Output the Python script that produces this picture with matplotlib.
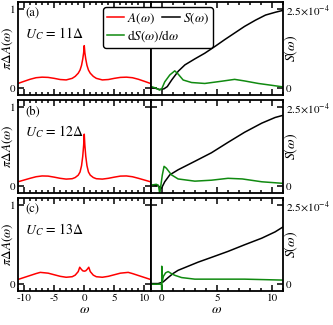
import matplotlib
matplotlib.use("Agg")
import matplotlib.pyplot as plt
from matplotlib.ticker import FixedLocator, MultipleLocator

plt.rcParams["font.family"] = "STIXGeneral"
plt.rcParams["mathtext.fontset"] = "stix"
plt.rcParams["axes.unicode_minus"] = False

# spectral function A(w), left column
W_A = [-11, -10, -9, -8, -7, -6, -5, -4, -3, -2, -1.5, -1, -0.7, -0.45, -0.25, -0.1,
       0, 0.1, 0.25, 0.45, 0.7, 1, 1.5, 2, 3, 4, 5, 6, 7, 8, 9, 10, 11]
A_11 = [0.06, 0.087, 0.113, 0.133, 0.14, 0.137, 0.125, 0.11, 0.105, 0.125, 0.15, 0.19,
        0.23, 0.29, 0.37, 0.45, 0.54, 0.45, 0.37, 0.29, 0.23, 0.19, 0.15, 0.125, 0.105,
        0.11, 0.125, 0.137, 0.14, 0.133, 0.113, 0.087, 0.06]
A_12 = [0.056, 0.078, 0.10, 0.12, 0.13, 0.128, 0.115, 0.10, 0.09, 0.095, 0.11, 0.14,
        0.18, 0.26, 0.38, 0.52, 0.66, 0.52, 0.38, 0.26, 0.18, 0.14, 0.11, 0.095, 0.09,
        0.10, 0.115, 0.128, 0.13, 0.12, 0.10, 0.078, 0.056]
W_A13 = [-11, -10, -9, -8, -7.3, -6, -5, -4, -3, -2, -1.5, -1, -0.75, -0.5, -0.25, 0,
         0.25, 0.5, 0.75, 1, 1.5, 2, 3, 4, 5, 6, 7.3, 8, 9, 10, 11]
A_13 = [0.06, 0.085, 0.11, 0.135, 0.15, 0.14, 0.12, 0.10, 0.088, 0.095, 0.115, 0.16,
        0.215, 0.19, 0.17, 0.165, 0.17, 0.19, 0.215, 0.16, 0.115, 0.095, 0.088, 0.10,
        0.12, 0.14, 0.15, 0.135, 0.11, 0.085, 0.06]

# S(w) and dS/dw, right column (units of 1e-4)
W_S11 = [-1.03, -0.6, -0.2, 0.2, 0.5, 0.9, 1.5, 2.1, 3.0, 3.9, 4.8, 5.7, 6.6, 7.5, 8.5,
         9.4, 10.3, 11]
S_11 = [0.02, 0.0, -0.04, -0.02, 0.05, 0.26, 0.54, 0.74, 0.93, 1.11, 1.32, 1.54, 1.75,
        1.96, 2.16, 2.32, 2.41, 2.47]
W_D11 = [-1.03, -0.5, -0.2, 0.0, 0.27, 0.73, 1.18, 1.48, 1.94, 2.7, 3.9, 5.4, 6.6, 7.5,
         8.75, 10, 11]
D_11 = [0.06, 0.0, -0.06, -0.02, 0.2, 0.42, 0.55, 0.45, 0.26, 0.18, 0.15, 0.22, 0.28,
        0.23, 0.15, 0.09, 0.04]

W_S12 = [-1.03, -0.33, -0.03, 0.27, 0.73, 1.48, 3.0, 4.5, 6.0, 7.5, 9.06, 10.27, 11]
S_12 = [0.03, 0.01, -0.07, 0.14, 0.36, 0.52, 0.79, 1.06, 1.39, 1.71, 2.0, 2.18, 2.25]
W_D12 = [-1.03, -0.5, -0.3, -0.18, -0.05, 0.05, 0.21, 0.42, 0.88, 1.48, 3.0, 4.5, 6.0,
         7.3, 9.06, 11]
D_12 = [0.03, 0.06, 0.03, -0.24, 0.1, 0.35, 0.63, 0.57, 0.36, 0.23, 0.16, 0.19, 0.25,
        0.23, 0.14, 0.09]

W_S13 = [-1.03, -0.33, 0.12, 0.58, 1.03, 1.48, 2.39, 3.3, 4.5, 6.0, 7.5, 9.06, 10.27, 11]
S_13 = [0.02, 0.02, 0.07, 0.21, 0.34, 0.44, 0.57, 0.7, 0.85, 1.04, 1.25, 1.46, 1.66, 1.82]
W_D13 = [-1.03, -0.02, 0.0, 0.0, 0.03, 0.15, 0.35, 0.58, 0.9, 1.2, 1.8, 3.0, 4.5, 7.5, 11]
D_13 = [0.0, 0.0, -0.3, 0.57, 0.05, 0.25, 0.36, 0.4, 0.33, 0.28, 0.21, 0.16, 0.16, 0.16,
        0.13]

PANELS = ["(a)", "(b)", "(c)"]
UC_LABELS = [r"$U_C\,=\,11\Delta$", r"$U_C\,=\,12\Delta$", r"$U_C\,=\,13\Delta$"]
A_SERIES = [(W_A, A_11), (W_A, A_12), (W_A13, A_13)]
S_SERIES = [(W_S11, S_11), (W_S12, S_12), (W_S13, S_13)]
D_SERIES = [(W_D11, D_11), (W_D12, D_12), (W_D13, D_13)]

RED = "#ff0000"
GREEN = "#108a10"

fig = plt.figure(figsize=(3.33, 3.25), dpi=100)

left_x, col_w = 18 / 333, 132.5 / 333
right_x = 150.7 / 333
h = 93 / 325
bottoms = [1 - 94.5 / 325, 1 - 192.5 / 325, 1 - 290.5 / 325]


def style(ax):
    ax.tick_params(which="both", direction="in", top=True, right=True,
                   labelsize=8, width=1.1, pad=2)
    ax.tick_params(which="major", length=4)
    ax.tick_params(which="minor", length=2)
    for s in ax.spines.values():
        s.set_linewidth(1.3)


handles = []
for i in range(3):
    axl = fig.add_axes([left_x, bottoms[i], col_w, h])
    axr = fig.add_axes([right_x, bottoms[i], col_w, h])

    w, a = A_SERIES[i]
    la, = axl.plot(w, a, color=RED, lw=1.1, label=r"$A(\omega)$")
    axl.set_xlim(-11, 11)
    axl.set_ylim(-0.08, 1.1)
    axl.xaxis.set_major_locator(FixedLocator([-10, -5, 0, 5, 10]))
    axl.xaxis.set_minor_locator(MultipleLocator(1))
    axl.yaxis.set_major_locator(FixedLocator([0, 1]))
    axl.set_ylabel(r"$\pi\Delta A(\omega)$", fontsize=9.5)
    axl.yaxis.set_label_coords(-0.025, 0.5)
    style(axl)
    axl.text(0.055, 0.866, PANELS[i], transform=axl.transAxes, fontsize=9,
             ha="left", va="center")
    axl.text(0.05, 0.66, UC_LABELS[i], transform=axl.transAxes, fontsize=10,
             ha="left", va="center")

    ws, s = S_SERIES[i]
    wd, d = D_SERIES[i]
    ls, = axr.plot(ws, [v * 1e-4 for v in s], color="black", lw=1.1, label=r"$S(\omega)$")
    ld, = axr.plot(wd, [v * 1e-4 for v in d], color=GREEN, lw=1.1,
                   label=r"$\mathrm{d}S(\omega)/\mathrm{d}\omega$")
    axr.set_xlim(-1, 11)
    axr.set_ylim(-0.2e-4, 2.75e-4)
    axr.xaxis.set_major_locator(FixedLocator([0, 5, 10]))
    axr.xaxis.set_minor_locator(MultipleLocator(1))
    axr.yaxis.set_major_locator(FixedLocator([0, 2.5e-4]))
    axr.yaxis.tick_right()
    axr.set_yticklabels(["0", r"$2.5\!\times\!10^{-4}$"])
    axr.yaxis.set_label_position("right")
    axr.set_ylabel(r"$S(\omega)$", fontsize=10)
    axr.yaxis.set_label_coords(0.995, 0.5)
    style(axr)
    axr.tick_params(which="both", left=True)

    if i < 2:
        axl.tick_params(labelbottom=False)
        axr.tick_params(labelbottom=False)
    else:
        axl.set_xlabel(r"$\omega$", fontsize=10, labelpad=0)
        axr.set_xlabel(r"$\omega$", fontsize=10, labelpad=0)
        handles = [la, ld, ls]

# second column overlaps the long dS/dw label, as in the original
leg = fig.legend(handles=handles, ncol=2, loc="upper left",
                 bbox_to_anchor=(103 / 333, 1 - 7 / 325), fontsize=9.5,
                 handlelength=1.3, handletextpad=0.25, columnspacing=-1.3,
                 labelspacing=0.2, borderpad=0.3, borderaxespad=0,
                 framealpha=1, fancybox=True)
leg.get_frame().set_edgecolor("black")
leg.get_frame().set_linewidth(1.0)

fig.savefig("out.png", dpi=100)
